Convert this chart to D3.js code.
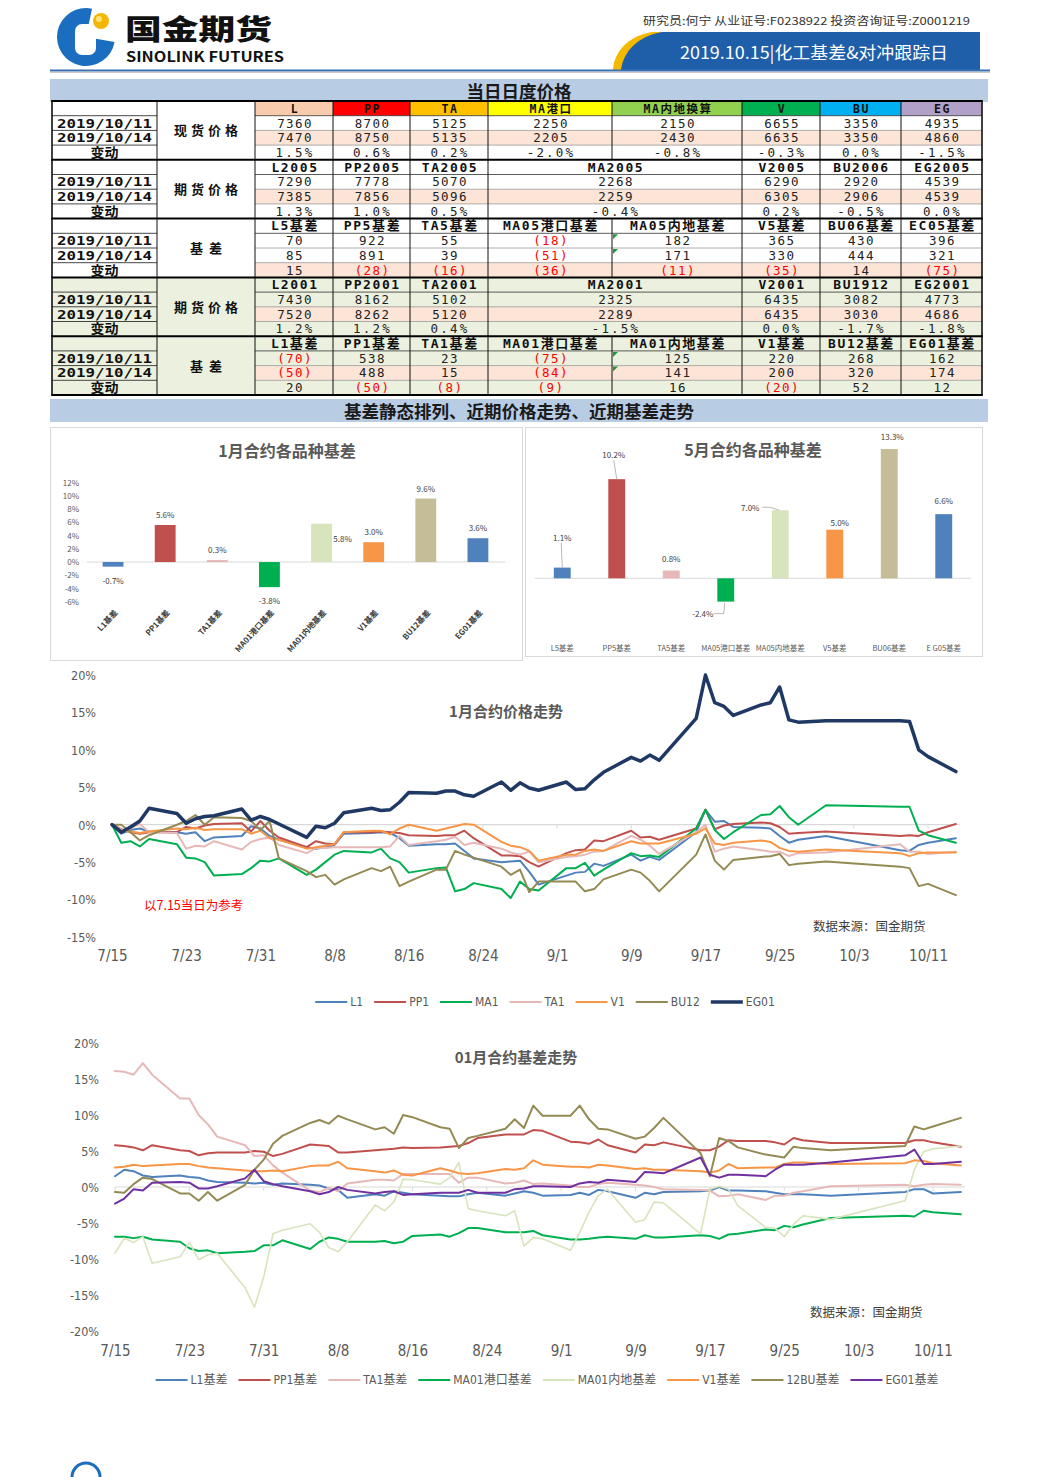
<!DOCTYPE html>
<html><head><meta charset="utf-8">
<script src="https://cdn.jsdelivr.net/npm/d3@7"></script>
<style>
html,body{margin:0;padding:0;background:#fff;}
svg{display:block;}
text{font-family:"Noto Sans CJK SC","Noto Sans",sans-serif;}
.cond{font-family:"Liberation Sans Narrow","DejaVu Sans Condensed","Noto Sans CJK SC",sans-serif;}
.mono{font-family:"DejaVu Sans Mono","Liberation Mono","Noto Sans CJK SC",monospace;}
</style></head><body>
<svg id="page" width="1044" height="1477"></svg>
<script>
// ================= DATA =================
const rowDates = ["2019/10/11","2019/10/14","变动"];
const sectionLabels = ["现货价格","期货价格","基差","期货价格","基差"];

const spotHeaders = ["L","PP","TA","MA港口","MA内地换算","V","BU","EG"];
const spotRow1 = ["7360","8700","5125","2250","2150","6655","3350","4935"];
const spotRow2 = ["7470","8750","5135","2205","2430","6635","3350","4860"];
const spotChg  = ["1.5%","0.6%","0.2%","-2.0%","-0.8%","-0.3%","0.0%","-1.5%"];

const fut05Headers = ["L2005","PP2005","TA2005","MA2005","V2005","BU2006","EG2005"];
const fut05Row1 = ["7290","7778","5070","2268","6290","2920","4539"];
const fut05Row2 = ["7385","7856","5096","2259","6305","2906","4539"];
const fut05Chg  = ["1.3%","1.0%","0.5%","-0.4%","0.2%","-0.5%","0.0%"];

const basis05Headers = ["L5基差","PP5基差","TA5基差","MA05港口基差","MA05内地基差","V5基差","BU06基差","EC05基差"];
const basis05Row1 = [70,922,55,-18,182,365,430,396];
const basis05Row2 = [85,891,39,-51,171,330,444,321];
const basis05Chg  = [15,-28,-16,-36,-11,-35,14,-75];

const fut01Headers = ["L2001","PP2001","TA2001","MA2001","V2001","BU1912","EG2001"];
const fut01Row1 = ["7430","8162","5102","2325","6435","3082","4773"];
const fut01Row2 = ["7520","8262","5120","2289","6435","3030","4686"];
const fut01Chg  = ["1.2%","1.2%","0.4%","-1.5%","0.0%","-1.7%","-1.8%"];

const basis01Headers = ["L1基差","PP1基差","TA1基差","MA01港口基差","MA01内地基差","V1基差","BU12基差","EG01基差"];
const basis01Row1 = [-70,538,23,-75,125,220,268,162];
const basis01Row2 = [-50,488,15,-84,141,200,320,174];
const basis01Chg  = [20,-50,-8,-9,16,-20,52,12];

const bar1Cats = ["L1基差","PP1基差","TA1基差","MA01港口基差","MA01内地基差","V1基差","BU12基差","EG01基差"];
const bar1Vals = [-0.7,5.6,0.3,-3.8,5.8,3.0,9.6,3.6];
const bar2Cats = ["L5基差","PP5基差","TA5基差","MA05港口基差","MA05内地基差","V5基差","BU06基差","E G05基差"];
const bar2Vals = [1.1,10.2,0.8,-2.4,7.0,5.0,13.3,6.6];
const barTicks = [-6,-4,-2,0,2,4,6,8,10,12];

const tradeDates = ["07-15","07-16","07-17","07-18","07-19","07-22","07-23","07-24","07-25","07-26",
 "07-29","07-30","07-31","08-01","08-02","08-05","08-06","08-07","08-08","08-09",
 "08-12","08-13","08-14","08-15","08-16","08-19","08-20","08-21","08-22","08-23",
 "08-26","08-27","08-28","08-29","08-30","09-02","09-03","09-04","09-05","09-06",
 "09-09","09-10","09-11","09-12","09-16","09-17","09-18","09-19","09-20","09-23",
 "09-24","09-25","09-26","09-27","09-30","10-08","10-09","10-10","10-11","10-14"];

// 1月合约价格走势 (% vs 7/15)
const priceNames = ["L1","PP1","MA1","TA1","V1","BU12","EG01"];
const priceL1 = [0,-1.2,-0.7,-0.5,-0.9,-1.0,-1.2,-1.0,-2.2,-1.7,
 -1.5,-0.2,-0.5,-1.5,-2.0,-3.0,-3.2,-3.0,-2.7,-1.2,
 -1.1,-1.0,-1.1,-1.8,-2.8,-2.6,-2.6,-2.5,-3.5,-4.5,
 -5.0,-4.9,-4.8,-6.3,-8.0,-6.8,-6.4,-6.3,-5.2,-5.5,
 -4.0,-4.8,-4.3,-4.7,-1.0,2.0,0.4,0.5,-0.3,-0.4,
 -0.5,-1.5,-2.4,-2.0,-1.5,-3.4,-3.5,-2.7,-2.4,-1.8];
const pricePP1 = [0,-0.6,-1.0,-1.2,-1.0,-1.0,-0.3,-0.5,-0.1,0.1,
 0.2,-0.9,0.5,-0.8,-1.7,-3.0,-2.2,-2.5,-2.6,-1.0,
 -1.0,-0.9,-1.0,-1.1,-1.4,-1.5,-1.4,-1.4,-0.8,-1.8,
 -4.1,-4.1,-4.2,-5.0,-5.6,-3.8,-3.4,-3.3,-2.1,-2.2,
 -0.8,-1.7,-1.6,-2.0,-0.5,2.0,-0.6,-0.1,0.1,0.3,
 0.2,-0.3,-1.2,-1.1,-0.9,-1.5,-1.4,-1.5,-1.0,0.1];
const priceMA1 = [0,-2.4,-2.2,-2.9,-1.9,-2.6,-4.4,-4.5,-5.0,-6.8,
 -6.6,-5.8,-4.8,-4.9,-4.5,-6.7,-6.0,-5.0,-4.0,-3.5,
 -3.7,-3.2,-4.5,-5.0,-6.4,-5.8,-5.7,-8.9,-8.6,-7.8,
 -8.6,-9.8,-7.6,-8.6,-8.8,-5.8,-5.8,-5.1,-6.8,-6.0,
 -3.8,-4.2,-4.1,-4.3,-0.5,2.0,-0.7,-1.9,-1.0,1.3,
 1.4,2.5,1.0,0.0,2.6,2.4,2.4,-0.8,-1.4,-2.4];
const priceTA1 = [0,-0.7,-0.5,0.1,-1.0,-1.1,-3.2,-2.8,-2.9,-2.2,
 -3.3,-2.3,-1.9,-1.7,-2.7,-3.8,-3.1,-3.1,-3.0,-3.0,
 -3.0,-3.0,-2.9,-1.5,-2.7,-2.2,-2.0,-1.6,-2.7,-2.4,
 -3.2,-3.7,-4.0,-3.6,-5.0,-4.3,-4.2,-4.0,-3.6,-3.5,
 -1.5,-2.0,-2.8,-3.9,-1.0,0.0,-3.6,-3.2,-2.9,-3.4,
 -3.6,-3.6,-4.2,-3.8,-3.7,-2.6,-3.6,-3.6,-3.9,-3.6];
const priceV1 = [0,-0.8,-0.9,-1.1,-0.9,-0.5,-0.6,-0.4,-0.7,-0.6,
 -0.6,-1.2,-0.8,-1.8,-2.0,-3.2,-3.0,-2.8,-2.6,-1.0,
 -0.8,-0.8,-1.3,-0.5,0.0,-0.8,-0.5,-0.2,0.1,0.0,
 -2.3,-2.8,-3.0,-3.5,-4.8,-4.0,-4.0,-3.5,-3.3,-3.5,
 -2.2,-2.5,-2.5,-2.5,-1.2,-0.5,-2.5,-2.7,-2.4,-2.1,
 -2.3,-3.1,-3.5,-3.6,-3.3,-3.8,-4.2,-3.8,-3.7,-3.7];
const priceBU12 = [0,0.0,-1.0,-2.1,-1.4,0.0,0.5,1.3,0.0,1.0,
 0.9,0.5,-0.7,0.5,-4.5,-6.2,-7.0,-6.7,-8.0,-7.3,
 -5.8,-6.2,-5.6,-8.2,-7.6,-6.0,-6.0,-3.5,-4.0,-4.4,
 -5.6,-6.7,-6.0,-9.0,-7.6,-7.6,-7.6,-8.9,-8.6,-7.3,
 -6.0,-6.4,-7.5,-8.9,-4.0,-1.3,-4.8,-6.0,-4.7,-4.3,
 -4.2,-3.9,-5.4,-5.2,-4.9,-5.6,-5.8,-8.2,-7.9,-9.4];
const priceEG01 = [0,-1.0,-0.3,0.5,2.2,1.5,0.2,0.8,1.1,1.2,
 2.1,0.6,1.1,0.7,0.1,-1.7,-0.2,-0.4,0.2,1.6,
 2.2,1.9,2.0,3.0,4.3,4.2,4.5,4.5,4.0,3.8,
 5.7,4.6,5.6,4.9,4.6,5.7,4.7,4.8,6.0,7.0,
 9.0,8.5,9.3,8.6,14.2,20.0,16.3,15.8,14.6,16.0,
 16.3,18.4,14.0,13.7,13.9,13.9,13.8,10.0,9.1,7.1];

// 01月合约基差走势 (%)
const basisNames = ["L1基差","PP1基差","TA1基差","MA01港口基差","MA01内地基差","V1基差","12BU基差","EG01基差"];
const basisL1 = [1.5,2.4,2.2,1.6,1.4,1.6,1.4,1.3,0.9,0.7,
 0.6,0.5,0.6,0.3,0.5,0.3,0.2,-0.2,-0.4,-1.5,
 -1.0,-1.2,-0.6,-0.8,-1.0,-1.2,-1.3,-1.3,-1.0,-0.8,
 -1.2,-0.9,-0.6,-0.8,-1.2,-1.1,-0.8,-1.1,-0.4,-0.6,
 -1.5,-0.8,-1.0,-0.7,-0.6,-0.5,0.0,-0.5,-0.5,-0.6,
 -0.8,-1.0,-1.0,-1.0,-1.2,-0.7,-0.3,-0.3,-0.9,-0.7];
const basisPP1 = [5.8,5.7,5.5,5.1,5.8,5.1,5.0,4.4,4.7,4.8,
 4.8,5.0,4.9,4.3,4.6,5.9,5.8,5.7,4.8,4.8,
 5.1,5.2,5.3,5.5,5.4,5.5,5.6,5.7,6.1,6.8,
 7.3,7.3,7.3,7.9,7.8,6.3,6.2,6.0,6.6,5.8,
 4.8,5.9,5.8,6.2,5.1,5.1,5.6,6.5,6.4,6.4,
 6.2,5.9,6.8,6.5,6.1,6.1,6.5,6.5,6.2,5.6];
const basisTA1 = [16.1,16.0,15.6,17.2,15.6,12.3,12.3,10.0,8.7,7.0,
 5.8,4.3,4.4,3.0,2.0,-0.5,-0.7,-0.1,-0.6,0.5,
 1.0,1.0,0.9,1.8,1.8,1.8,1.8,0.6,1.3,1.3,
 0.5,0.6,0.9,0.4,0.5,0.2,0.0,0.0,0.4,0.6,
 0.3,0.2,0.0,-0.3,-0.4,-0.5,-1.3,-1.2,-1.0,-1.8,
 -1.2,-1.2,-0.8,-0.6,0.1,0.3,0.1,0.3,0.4,0.3];
const basisMAport = [-6.9,-6.9,-7.1,-6.9,-7.3,-7.6,-8.5,-8.9,-8.8,-9.2,
 -9.0,-8.9,-8.1,-8.1,-7.4,-8.6,-7.6,-7.0,-7.2,-7.6,
 -7.6,-7.5,-7.8,-7.6,-6.8,-6.6,-6.9,-6.4,-5.7,-5.7,
 -6.3,-6.3,-6.3,-6.1,-6.7,-7.3,-7.3,-7.2,-7.0,-6.9,
 -7.2,-6.7,-7.0,-7.0,-6.7,-6.8,-7.2,-6.6,-6.5,-5.9,
 -6.0,-5.4,-5.6,-5.2,-4.3,-4.0,-4.1,-3.3,-3.5,-3.8];
const basisMAinland = [-9.2,-7.1,-7.7,-6.9,-10.6,-9.7,-7.7,-10.1,-9.4,-9.2,
 -14.0,-16.7,-12.5,-6.5,-6.0,-5.1,-6.3,-8.4,-9.0,-7.6,
 -2.5,-3.3,-2.1,1.1,1.0,0.4,1.3,3.4,-3.0,-3.3,
 -4.0,-3.3,-8.2,-7.0,-7.2,-8.8,-6.3,-3.5,-1.2,-0.3,
 -4.9,-4.5,-2.1,-2.2,-6.5,-0.3,0.1,-0.3,-2.6,-5.6,
 -5.7,-6.9,-5.2,-4.0,-4.5,-1.9,2.4,4.9,5.3,5.7];
const basisV1 = [2.7,2.8,3.1,2.9,3.0,3.2,3.2,2.9,2.7,2.6,
 2.3,2.2,2.2,2.3,2.2,2.9,3.0,3.0,3.5,2.6,
 2.2,2.0,2.3,1.7,1.6,2.6,2.3,1.9,1.8,1.9,
 2.5,2.4,2.6,3.7,3.1,2.8,2.8,2.7,3.1,3.0,
 2.5,2.6,2.4,2.4,2.2,2.0,2.3,3.2,2.6,2.7,
 2.7,3.2,3.4,3.4,3.2,3.3,3.7,3.6,3.3,3.0];
const basisBU12 = [-0.7,-0.8,0.4,1.3,1.1,-0.9,-0.9,-1.9,-0.7,-1.9,
 0.3,2.4,3.8,6.0,7.1,8.9,9.3,8.8,9.9,9.4,
 8.0,8.3,7.4,10.0,9.7,8.3,8.1,5.4,6.8,7.1,
 8.1,9.4,8.2,11.3,9.9,9.9,11.3,9.4,8.1,8.0,
 6.7,7.0,8.2,9.6,4.7,1.5,6.8,6.4,5.5,4.5,
 4.3,4.1,5.6,5.4,5.1,5.7,8.4,8.0,8.4,9.6];
const basisEG01 = [-2.3,-1.6,-0.3,-0.5,0.6,0.7,0.6,-0.2,-0.2,0.1,
 1.2,2.4,0.8,0.4,0.1,-0.6,-1.0,-0.7,0.0,-0.4,
 -0.9,-0.7,-0.6,-1.1,-1.0,-0.8,-0.8,-0.8,-0.4,-0.8,
 -0.8,-0.3,-0.2,0.1,0.1,0.0,0.5,0.7,0.6,1.0,
 0.7,2.1,2.0,1.9,4.1,1.7,1.3,1.7,1.7,1.5,
 2.4,3.1,3.1,3.1,3.4,4.4,5.2,3.2,3.2,3.5];

// ================= RENDER =================
const svg = d3.select("#page");
const parseD = d3.utcParse("%Y-%m-%d");
const dates = tradeDates.map(s => parseD("2019-" + s));
const fmtTick = d3.utcFormat("%-m/%-d");

// ---------- header ----------
const hdr = svg.append("g");
const logoArc = d3.arc().innerRadius(0).outerRadius(29).startAngle(100*Math.PI/180).endAngle(372*Math.PI/180);
hdr.append("path").attr("d", logoArc()).attr("transform","translate(86,37)").attr("fill","#1a6dbf");
hdr.append("rect").attr("x",75).attr("y",24).attr("width",21).attr("height",31).attr("rx",7).attr("fill","#fff");
hdr.append("circle").attr("cx",101).attr("cy",21).attr("r",8).attr("fill","#f2b705");
hdr.append("circle").attr("cx",99).attr("cy",19).attr("r",3).attr("fill","#ffe27a");
hdr.append("text").attr("x",125).attr("y",40).attr("font-size",28).attr("font-weight",900)
  .attr("textLength",147).attr("lengthAdjust","spacingAndGlyphs").attr("fill","#111").text("国金期货");
hdr.append("text").attr("x",126).attr("y",62).attr("font-size",14).attr("font-weight",700)
  .attr("font-family","Liberation Sans, Arial, sans-serif")
  .attr("textLength",158).attr("lengthAdjust","spacingAndGlyphs").attr("fill","#111").text("SINOLINK FUTURES");
hdr.append("text").attr("x",643).attr("y",25).attr("font-size",11).attr("fill","#333")
  .attr("textLength",327).attr("lengthAdjust","spacingAndGlyphs").text("研究员:何宁  从业证号:F0238922  投资咨询证号:Z0001219");
hdr.append("path").attr("d","M613,70 C614,52 628,36 652,32 L664,32 C640,37 626,52 624,70 Z").attr("fill","#f5b800");
hdr.append("path").attr("d","M621,70 C623,52 638,36 662,32 L980,32 L980,70 Z").attr("fill","#1f5ea8");
hdr.append("text").attr("x",814).attr("y",59).attr("text-anchor","middle").attr("font-size",17).attr("fill","#fff")
  .attr("textLength",268).attr("lengthAdjust","spacingAndGlyphs").text("2019.10.15|化工基差&对冲跟踪日");
hdr.append("line").attr("x1",50).attr("x2",990).attr("y1",70.5).attr("y2",70.5).attr("stroke","#3a6fb0").attr("stroke-width",2);
hdr.append("line").attr("x1",50).attr("x2",990).attr("y1",72.5).attr("y2",72.5).attr("stroke","#c9c9c9").attr("stroke-width",1);

// ---------- title bars ----------
function titleBar(y, h, txt){
  svg.append("rect").attr("x",50).attr("y",y).attr("width",938).attr("height",h).attr("fill","#b8cce4");
  svg.append("text").attr("x",519).attr("y",y+h-4).attr("text-anchor","middle").attr("font-size",17.5)
    .attr("font-weight",700).attr("fill","#1a1a1a").text(txt);
}
titleBar(79,23,"当日日度价格");
titleBar(399,23,"基差静态排列、近期价格走势、近期基差走势");

// ---------- table ----------
const colX = [52,157,255,333,410,488,612,742,820,901,982];
const tTop = 101, rowH = 14.7;
const headColors = ["#f8cbad","#ff0000","#ffc000","#ffff00","#92d050","#00b050","#00b0f0","#b1a0c7"];
const sections = [
  {headers: spotHeaders, rows: [spotRow1, spotRow2, spotChg], merged:false, basis:false, green:false, peach:2},
  {headers: fut05Headers, rows: [fut05Row1, fut05Row2, fut05Chg], merged:true, basis:false, green:false, peach:2},
  {headers: basis05Headers, rows: [basis05Row1, basis05Row2, basis05Chg], merged:false, basis:true, green:false, peach:3},
  {headers: fut01Headers, rows: [fut01Row1, fut01Row2, fut01Chg], merged:true, basis:false, green:true, peach:2},
  {headers: basis01Headers, rows: [basis01Row1, basis01Row2, basis01Chg], merged:false, basis:true, green:true, peach:2}
];
const tbl = svg.append("g");
function cellSpans(sec){
  if(!sec.merged) return d3.range(8).map(i => [colX[i+2], colX[i+3]]);
  return [[colX[2],colX[3]],[colX[3],colX[4]],[colX[4],colX[5]],[colX[5],colX[7]],[colX[7],colX[8]],[colX[8],colX[9]],[colX[9],colX[10]]];
}
function fmtBasis(v){ return v < 0 ? "(" + Math.abs(v) + ")" : String(v); }
sections.forEach((sec, s) => {
  const y0 = tTop + s*4*rowH;
  if(sec.green) tbl.append("rect").attr("x",colX[0]).attr("y",y0).attr("width",colX[10]-colX[0]).attr("height",4*rowH).attr("fill","#ebf1de");
  const spans = cellSpans(sec);
  if(s === 0){
    spans.forEach((sp,i) => tbl.append("rect").attr("x",sp[0]).attr("y",y0).attr("width",sp[1]-sp[0]).attr("height",rowH).attr("fill",headColors[i]));
  }
  tbl.append("rect").attr("x",colX[2]).attr("y",y0+sec.peach*rowH).attr("width",colX[10]-colX[2]).attr("height",rowH).attr("fill","#fce4d6");
  sec.headers.forEach((h,i) => {
    const sp = spans[i];
    tbl.append("text").attr("class","mono").attr("x",(sp[0]+sp[1])/2+1).attr("y",y0+rowH/2+4.5)
      .attr("text-anchor","middle").attr("font-size", s===0 ? 11.5 : 13).attr("font-weight",700)
      .attr("letter-spacing", s===0 ? 1.5 : 1.6).attr("fill","#111").text(h);
  });
  sec.rows.forEach((row, r) => {
    row.forEach((v,i) => {
      const sp = spans[i];
      const neg = sec.basis && v < 0;
      const txt = sec.basis ? fmtBasis(v) : v;
      tbl.append("text").attr("class","mono").attr("x",(sp[0]+sp[1])/2+1).attr("y",y0+(r+1)*rowH+rowH/2+4.5)
        .attr("text-anchor","middle").attr("font-size",12.5)
        .attr("letter-spacing", String(txt).includes("%") ? 2.2 : 1.4)
        .attr("fill", neg ? "#ff0000" : "#222").text(txt);
    });
    tbl.append("text").attr("class","mono").attr("x",(colX[0]+colX[1])/2).attr("y",y0+(r+1)*rowH+rowH/2+4.5)
      .attr("text-anchor","middle").attr("font-size",13).attr("font-weight",700)
      .attr("textLength", r<2 ? 95 : 28).attr("lengthAdjust","spacingAndGlyphs").attr("fill","#111").text(rowDates[r]);
  });
  tbl.append("text").attr("x",(colX[1]+colX[2])/2).attr("y",y0+2*rowH+5).attr("text-anchor","middle")
    .attr("font-size",13).attr("font-weight",700).attr("textLength", sectionLabels[s].length*16)
    .attr("lengthAdjust","spacing").attr("fill","#111").text(sectionLabels[s]);
  for(let r=1;r<4;r++){
    const yy = y0 + r*rowH;
    tbl.append("line").attr("x1",colX[0]).attr("x2",colX[1]).attr("y1",yy).attr("y2",yy).attr("stroke","#333").attr("stroke-width",0.9);
    tbl.append("line").attr("x1",colX[2]).attr("x2",colX[10]).attr("y1",yy).attr("y2",yy).attr("stroke", r===1 ? "#333" : "#9a9a9a").attr("stroke-width",0.8);
  }
  colX.forEach((cx,k) => {
    if(sec.merged && k===6) return;
    tbl.append("line").attr("x1",cx).attr("x2",cx).attr("y1",y0).attr("y2",y0+4*rowH)
      .attr("stroke","#111").attr("stroke-width", (k===0||k===10) ? 1.6 : 1);
  });
  if(sec.basis){
    [1,2].forEach(r => {
      const ty = y0 + r*rowH + 1;
      tbl.append("path").attr("d",`M${colX[6]+1},${ty} l5,0 l-5,5 Z`).attr("fill","#1a9a3a");
    });
  }
});
for(let s=0;s<=5;s++){
  const yy = tTop + s*4*rowH;
  tbl.append("line").attr("x1",colX[0]-0.8).attr("x2",colX[10]+0.8).attr("y1",yy).attr("y2",yy).attr("stroke","#000").attr("stroke-width",2);
}

// ---------- bar chart 1 ----------
const barColors = ["#4f81bd","#c0504d","#e6b9b8","#00b050","#d7e4bc","#f79646","#c4bd97","#4f81bd"];
svg.append("rect").attr("x",50.5).attr("y",427.5).attr("width",472).attr("height",233).attr("fill","none").attr("stroke","#d9d9d9");
svg.append("rect").attr("x",525.5).attr("y",427.5).attr("width",457).attr("height",229).attr("fill","none").attr("stroke","#d9d9d9");

const g1 = svg.append("g");
const b1x = d3.scaleBand().domain(bar1Cats).range([87,504]).paddingInner(0.6).paddingOuter(0.3);
const b1y = d3.scaleLinear().domain([-6,12]).range([601.7,482.7]);
g1.append("text").attr("x",287).attr("y",457).attr("text-anchor","middle").attr("font-size",16).attr("font-weight",700).attr("fill","#595959").text("1月合约各品种基差");
const ax1 = g1.append("g").attr("transform","translate(79,0)")
  .call(d3.axisLeft(b1y).tickValues(barTicks).tickFormat(d => d + "%").tickSize(0).tickPadding(0));
ax1.select(".domain").remove();
ax1.selectAll("text").attr("font-size",8).attr("fill","#595959").attr("font-family","Liberation Sans, sans-serif");
g1.append("line").attr("x1",87).attr("x2",505).attr("y1",b1y(0)).attr("y2",b1y(0)).attr("stroke","#d9d9d9");
g1.selectAll("rect.bar").data(bar1Vals).join("rect").attr("class","bar")
  .attr("x",(d,i) => b1x(bar1Cats[i])).attr("width",b1x.bandwidth())
  .attr("y",d => Math.min(b1y(d), b1y(0))).attr("height",d => Math.abs(b1y(d)-b1y(0)))
  .attr("fill",(d,i) => barColors[i]);
const bar1LabelOffsets = [[0,14],[0,-10],[0,-10],[0,14],[21,15],[0,-10],[0,-10],[0,-10]];
g1.selectAll("text.lbl").data(bar1Vals).join("text").attr("class","lbl")
  .attr("x",(d,i) => b1x(bar1Cats[i]) + b1x.bandwidth()/2 + bar1LabelOffsets[i][0])
  .attr("y",(d,i) => b1y(d) + bar1LabelOffsets[i][1] + 3)
  .attr("text-anchor","middle").attr("font-size",8).attr("fill","#404040").attr("font-family","Liberation Sans, sans-serif")
  .text(d => d.toFixed(1) + "%");
g1.selectAll("text.xl").data(bar1Cats).join("text").attr("class","xl")
  .attr("transform", d => `translate(${b1x(d)+b1x.bandwidth()/2+5},613) rotate(-48)`)
  .attr("text-anchor","end").attr("font-size",8).attr("font-weight",700).attr("fill","#404040").text(d => d);

// ---------- bar chart 2 ----------
const g2 = svg.append("g");
const b2x = d3.scaleBand().domain(bar2Cats).range([535,971]).paddingInner(0.69).paddingOuter(0.345);
const b2y = d3.scaleLinear().domain([-4,14]).range([578.3+4*9.72, 578.3-14*9.72]);
g2.append("text").attr("x",753).attr("y",456).attr("text-anchor","middle").attr("font-size",16).attr("font-weight",700).attr("fill","#595959").text("5月合约各品种基差");
g2.append("line").attr("x1",535).attr("x2",971).attr("y1",b2y(0)).attr("y2",b2y(0)).attr("stroke","#d9d9d9");
g2.selectAll("rect.bar").data(bar2Vals).join("rect").attr("class","bar")
  .attr("x",(d,i) => b2x(bar2Cats[i])).attr("width",b2x.bandwidth())
  .attr("y",d => Math.min(b2y(d), b2y(0))).attr("height",d => Math.abs(b2y(d)-b2y(0)))
  .attr("fill",(d,i) => barColors[i]);
const bar2LabelOffsets = [[0,-30],[-3,-24],[0,-12],[-23,12],[-30,-2],[5,-7],[3,-12.5],[0,-13]];
g2.selectAll("text.lbl").data(bar2Vals).join("text").attr("class","lbl")
  .attr("x",(d,i) => b2x(bar2Cats[i]) + b2x.bandwidth()/2 + bar2LabelOffsets[i][0])
  .attr("y",(d,i) => b2y(d) + bar2LabelOffsets[i][1] + 3)
  .attr("text-anchor","middle").attr("font-size",8).attr("fill","#404040").attr("font-family","Liberation Sans, sans-serif")
  .text(d => d.toFixed(1) + "%");
const cx2 = i => b2x(bar2Cats[i]) + b2x.bandwidth()/2;
const leaders = [
  [[cx2(0)-1, b2y(bar2Vals[0])-25],[cx2(0), b2y(bar2Vals[0])]],
  [[cx2(1)-3, b2y(bar2Vals[1])-19],[cx2(1), b2y(bar2Vals[1])]],
  [[cx2(3)-12, b2y(bar2Vals[3])+12],[cx2(3)-2, b2y(bar2Vals[3])+12],[cx2(3)-1, b2y(bar2Vals[3])+1]],
  [[cx2(4)-18, b2y(bar2Vals[4])-3],[cx2(4)-10, b2y(bar2Vals[4])-3],[cx2(4)-1, b2y(bar2Vals[4])]]
];
leaders.forEach(pts => g2.append("path").attr("d", d3.line()(pts)).attr("fill","none").attr("stroke","#a6a6a6").attr("stroke-width",0.8));
g2.selectAll("text.xl").data(bar2Cats).join("text").attr("class","xl")
  .attr("x", d => b2x(d)+b2x.bandwidth()/2).attr("y",651)
  .attr("text-anchor","middle").attr("font-size",7.5).attr("fill","#595959").text(d => d);

// ---------- line charts ----------
function lineChart(cfg){
  const g = svg.append("g");
  const x0 = parseD("2019-07-15"), x1 = parseD("2019-10-14");
  const x = d3.scaleUtc().domain([x0,x1]).range([cfg.left, cfg.left + 91*cfg.perDay]);
  const y = d3.scaleLinear().domain(cfg.yDomain).range(cfg.yRange);
  const tickDates = d3.range(0, 89, 8).map(k => d3.utcDay.offset(x0, k));
  g.append("line").attr("x1",cfg.left).attr("x2",x(x1)+4).attr("y1",y(0)).attr("y2",y(0)).attr("stroke","#d9d9d9").attr("stroke-width",1.2);
  tickDates.forEach(t => g.append("line").attr("x1",x(t)).attr("x2",x(t)).attr("y1",y(0)).attr("y2",y(0)+4).attr("stroke","#d9d9d9"));
  const ay = g.append("g").attr("transform",`translate(${cfg.yLabelX},0)`)
    .call(d3.axisLeft(y).tickValues(d3.range(cfg.yDomain[0], cfg.yDomain[1]+1, 5)).tickFormat(d => d + "%").tickSize(0).tickPadding(0));
  ay.select(".domain").remove();
  ay.selectAll("text").attr("class","cond").attr("font-size",12.5).attr("fill","#595959").attr("dy","0.35em");
  const ax = g.append("g").attr("transform",`translate(0,${cfg.xLabelY})`)
    .call(d3.axisBottom(x).tickValues(tickDates).tickFormat(fmtTick).tickSize(0).tickPadding(0));
  ax.select(".domain").remove();
  ax.selectAll("text").attr("class","cond").attr("font-size",15).attr("fill","#595959").attr("dy","0.35em");
  g.append("text").attr("x",cfg.titleX).attr("y",cfg.titleY).attr("text-anchor","middle").attr("font-size",15)
    .attr("font-weight",700).attr("fill","#595959").text(cfg.title);
  const gen = d3.line().x((d,i) => x(dates[i])).y(d => y(d));
  cfg.series.forEach(s => {
    g.append("path").attr("d", gen(s.values)).attr("fill","none").attr("stroke", s.color)
      .attr("stroke-width", s.width).attr("stroke-linejoin","round").attr("stroke-linecap","round");
  });
  g.append("text").attr("x",cfg.srcX).attr("y",cfg.srcY).attr("font-size",12.5).attr("fill","#404040").text("数据来源：国金期货");
  const lg = g.append("g");
  let cx = 0;
  cfg.series.forEach(s => {
    const it = lg.append("g").attr("transform",`translate(${cx},0)`);
    it.append("line").attr("x1",0).attr("x2",32).attr("y1",0).attr("y2",0).attr("stroke",s.color).attr("stroke-width",Math.max(2,s.width));
    const t = it.append("text").attr("x",35).attr("y",4).attr("class","cond").attr("font-size",12).attr("fill","#595959").text(s.name);
    cx += 35 + t.node().getComputedTextLength() + 11;
  });
  lg.attr("transform",`translate(${cfg.legendCX - (cx-11)/2},${cfg.legendY})`);
  return g;
}

const priceColors = ["#4f81bd","#c0504d","#00b050","#e6b9b8","#f79646","#948a54","#1f3864"];
const priceVals = [priceL1, pricePP1, priceMA1, priceTA1, priceV1, priceBU12, priceEG01];
const c1 = lineChart({
  left:112, perDay:9.273, yDomain:[-15,20], yRange:[937,675], yLabelX:96, xLabelY:956,
  title:"1月合约价格走势", titleX:506, titleY:717, srcX:813, srcY:931, legendCX:545, legendY:1002,
  series: priceNames.map((n,i) => ({name:n, values:priceVals[i], color:priceColors[i], width: i===6 ? 3.5 : 2}))
});
c1.append("text").attr("x",144).attr("y",910).attr("font-size",12.5).attr("fill","#ff0000").text("以7.15当日为参考");

const basisColors = ["#4f81bd","#c0504d","#e6b9b8","#00b050","#d7e4bc","#f79646","#948a54","#7030a0"];
const basisVals = [basisL1, basisPP1, basisTA1, basisMAport, basisMAinland, basisV1, basisBU12, basisEG01];
lineChart({
  left:115, perDay:9.295, yDomain:[-20,20], yRange:[1331,1043], yLabelX:99, xLabelY:1351,
  title:"01月合约基差走势", titleX:516, titleY:1063, srcX:810, srcY:1317, legendCX:547, legendY:1380,
  series: basisNames.map((n,i) => ({name:n, values:basisVals[i], color:basisColors[i], width: i===4 ? 1.6 : 2}))
});

svg.append("path").attr("d","M72,1477 A14,14 0 0 1 100,1477").attr("fill","none").attr("stroke","#1a6dbf").attr("stroke-width",3);
</script></body></html>
